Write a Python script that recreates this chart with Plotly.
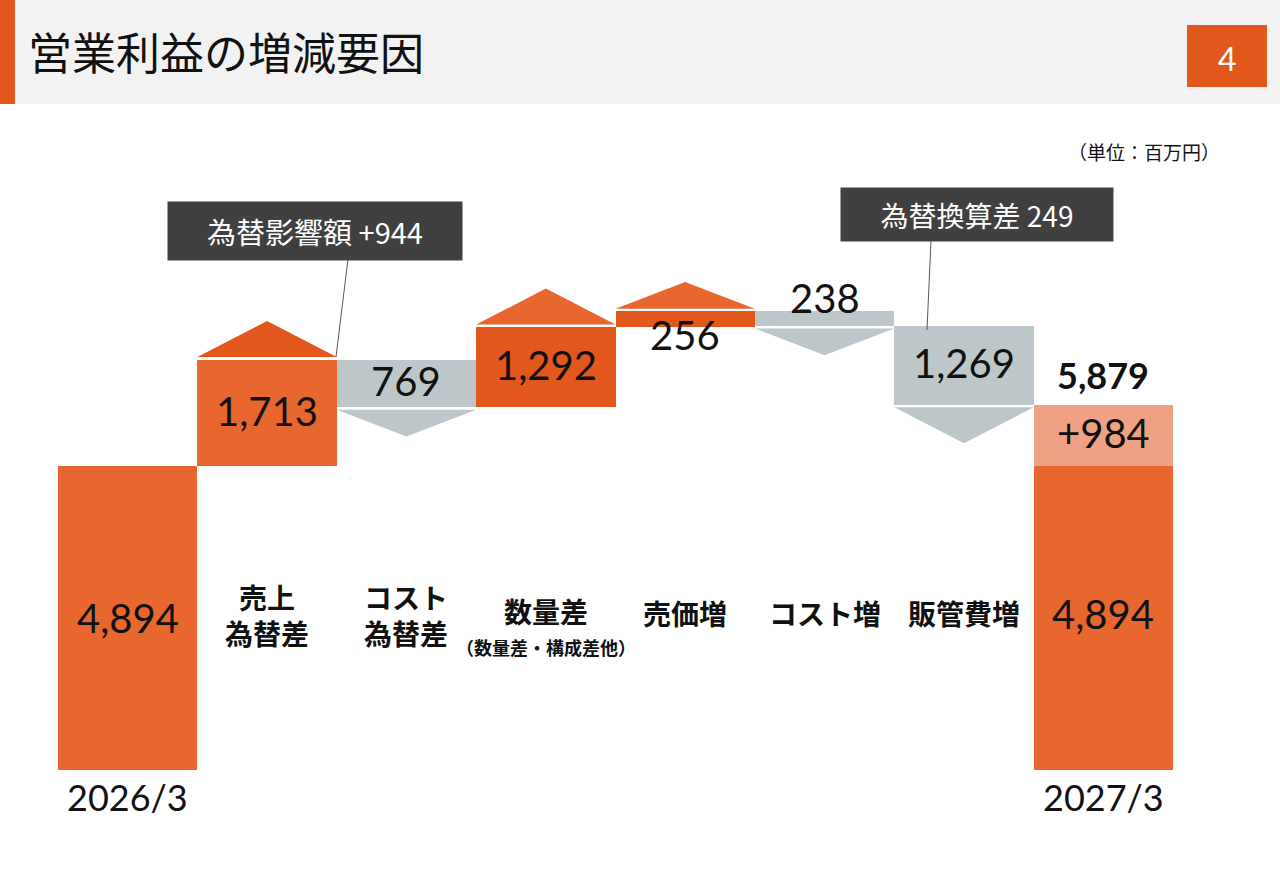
import plotly.graph_objects as go

# ---------------- data ----------------
categories = ["2026/3", "売上<br>為替差", "コスト<br>為替差", "数量差", "売価増", "コスト増", "販管費増", "2027/3"]
sub_label = "（数量差・構成差他）"
start_value = 4894
deltas = [1713, -769, 1292, 256, -238, -1269]
end_value = 5879
end_base_value = 4894
end_fx_part = 984
callout_texts = ["為替影響額 +944", "為替換算差 249"]
title_text = "営業利益の増減要因"
unit_text = "（単位：百万円）"
page_no = "4"

# ---------------- styles ----------------
W, H = 1280, 886
ORANGE = "#E8672F"
DARK = "#E2571C"
GRAY = "#BDC7CA"
LIGHT = "#EFA283"
BOX = "#404040"
JP = "Noto Sans CJK JP"
NUM = "Lato"

PX_LEFT, PX_RIGHT = 58, 1173
PX_ZERO, PX_TOP = 770, 110
PX_PER_UNIT = 304 / 4894
Y_MAX = (PX_ZERO - PX_TOP) / PX_PER_UNIT
GAP = 2.5 / PX_PER_UNIT

bar_colors = [ORANGE, GRAY, DARK, DARK, GRAY, GRAY]
arrow_colors = [DARK, GRAY, ORANGE, ORANGE, GRAY, GRAY]
label_pos = ["center", "center", "center", "below", "above", "center"]


def px_y(py):
    return 1 - py / H


def px_x(px):
    return px / W


fig = go.Figure()

n = len(categories)
bases = [0]
heights = [start_value]
colors = [ORANGE]
running = start_value
segments = []
for d, c in zip(deltas, bar_colors):
    lo = min(running, running + d)
    bases.append(lo)
    heights.append(abs(d))
    colors.append(c)
    segments.append((running, running + d))
    running += d
bases.append(0)
heights.append(end_base_value)
colors.append(ORANGE)

xs = list(range(n))
fig.add_trace(go.Bar(x=xs, y=heights, base=bases, width=1.0,
                     marker=dict(color=colors, line=dict(width=0)),
                     hoverinfo="skip", showlegend=False))
fig.add_trace(go.Bar(x=[n - 1], y=[end_value - end_base_value], base=[end_base_value], width=1.0,
                     marker=dict(color=LIGHT, line=dict(width=0)),
                     hoverinfo="skip", showlegend=False))

# arrow heads
for i, ((a, b), d, ac) in enumerate(zip(segments, deltas, arrow_colors)):
    xi = i + 1
    h = 580 if abs(d) > 1000 else 430
    if d > 0:
        y0 = b + GAP
        y1 = y0 + h
    else:
        y0 = b - GAP
        y1 = y0 - h
    fig.add_trace(go.Scatter(x=[xi - 0.5, xi + 0.5, xi, xi - 0.5], y=[y0, y0, y1, y0],
                             mode="lines", fill="toself", fillcolor=ac,
                             line=dict(width=0, color=ac), hoverinfo="skip", showlegend=False))

annotations = []
numfont = dict(family=NUM, size=40, color="#111111")

# value labels
annotations.append(dict(x=0, y=start_value / 2, text=f"{start_value:,}", showarrow=False,
                        xref="x", yref="y", font=numfont))
for i, ((a, b), d, pos) in enumerate(zip(segments, deltas, label_pos)):
    xi = i + 1
    lo, hi = min(a, b), max(a, b)
    if pos == "center":
        annotations.append(dict(x=xi, y=(lo + hi) / 2, text=f"{abs(d):,}", showarrow=False,
                                xref="x", yref="y", font=numfont, yshift=2))
    elif pos == "below":
        annotations.append(dict(x=xi, y=lo, text=f"{abs(d):,}", showarrow=False,
                                xref="x", yref="y", font=numfont, yshift=-8))
    else:
        annotations.append(dict(x=xi, y=hi, text=f"{abs(d):,}", showarrow=False,
                                xref="x", yref="y", font=numfont, yshift=13))
annotations.append(dict(x=n - 1, y=end_base_value / 2, text=f"{end_base_value:,}", showarrow=False,
                        xref="x", yref="y", font=numfont, yshift=4))
annotations.append(dict(x=n - 1, y=(end_base_value + end_value) / 2, text=f"+{end_fx_part:,}", showarrow=False,
                        xref="x", yref="y", font=numfont, yshift=2))
annotations.append(dict(x=n - 1, y=end_value, text=f"<b>{end_value:,}</b>", showarrow=False,
                        xref="x", yref="y", font=dict(family=NUM, size=36, color="#111111"), yshift=30))

# category labels
for i, cat in enumerate(categories):
    if i == 0 or i == n - 1:
        annotations.append(dict(x=i, y=px_y(797), xref="x", yref="paper", yanchor="middle", text=cat,
                                showarrow=False, font=dict(family=NUM, size=36, color="#111111")))
    else:
        yc = 613 if "<br>" not in cat else 615
        if i == 3:
            yc = 611
        annotations.append(dict(x=i, y=px_y(yc), xref="x", yref="paper", yanchor="middle",
                                text=f"<b>{cat}</b>", showarrow=False,
                                font=dict(family=JP, size=28, color="#111111")))
annotations.append(dict(x=3, y=px_y(647), xref="x", yref="paper", yanchor="middle", text=f"<b>{sub_label}</b>",
                        showarrow=False, font=dict(family=JP, size=18, color="#111111")))

# callout boxes
annotations.append(dict(x=px_x(167), y=px_y(201), xref="paper", yref="paper", xanchor="left", yanchor="top",
                        text=callout_texts[0], showarrow=False, bgcolor=BOX, width=294, height=58,
                        borderpad=0, font=dict(family=JP, size=29, color="white")))
annotations.append(dict(x=px_x(840), y=px_y(187), xref="paper", yref="paper", xanchor="left", yanchor="top",
                        text=callout_texts[1], showarrow=False, bgcolor=BOX, width=272, height=53,
                        borderpad=0, font=dict(family=JP, size=28, color="white")))

# header texts
annotations.append(dict(x=px_x(26), y=px_y(51), xref="paper", yref="paper", xanchor="left", yanchor="middle",
                        text=title_text, showarrow=False, font=dict(family=JP, size=44, color="#111111")))
annotations.append(dict(x=px_x(1227), y=px_y(58), xref="paper", yref="paper", xanchor="center", yanchor="middle",
                        text=page_no, showarrow=False, font=dict(family=NUM, size=32, color="white")))
annotations.append(dict(x=px_x(1222), y=px_y(151), xref="paper", yref="paper", xanchor="right", yanchor="middle",
                        text=unit_text, showarrow=False, font=dict(family=JP, size=19, color="#111111")))

shapes = [
    dict(type="rect", xref="paper", yref="paper", x0=0, x1=1, y0=px_y(104), y1=1,
         fillcolor="#F2F2F2", line=dict(width=0), layer="below"),
    dict(type="rect", xref="paper", yref="paper", x0=0, x1=px_x(15), y0=px_y(104), y1=1,
         fillcolor=DARK, line=dict(width=0), layer="below"),
    dict(type="rect", xref="paper", yref="paper", x0=px_x(1187), x1=px_x(1267), y0=px_y(87), y1=px_y(25),
         fillcolor=DARK, line=dict(width=0)),
    dict(type="line", xref="paper", yref="paper", x0=px_x(348), y0=px_y(259), x1=px_x(336), y1=px_y(357),
         line=dict(color="#555555", width=1)),
    dict(type="line", xref="paper", yref="paper", x0=px_x(931), y0=px_y(240), x1=px_x(927), y1=px_y(330),
         line=dict(color="#555555", width=1)),
]

fig.update_layout(
    width=W, height=H, margin=dict(l=0, r=0, t=0, b=0),
    paper_bgcolor="white", plot_bgcolor="rgba(0,0,0,0)",
    barmode="overlay", bargap=0,
    xaxis=dict(domain=[PX_LEFT / W, PX_RIGHT / W], range=[-0.5, n - 0.5], visible=False, fixedrange=True),
    yaxis=dict(domain=[1 - PX_ZERO / H, 1 - PX_TOP / H], range=[0, Y_MAX], visible=False, fixedrange=True),
    annotations=annotations, shapes=shapes, showlegend=False,
)

fig.write_html("out.html", config={"displayModeBar": False},
               post_script="document.body.style.margin='0';document.body.style.overflow='hidden';")
